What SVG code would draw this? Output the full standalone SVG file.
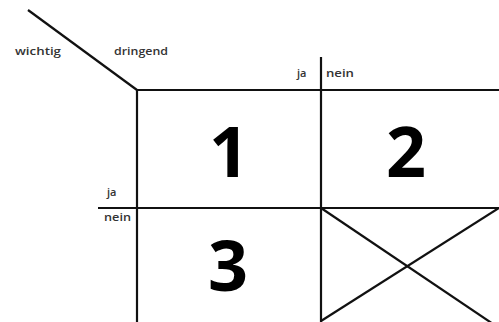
<svg xmlns="http://www.w3.org/2000/svg" width="499" height="322" viewBox="0 0 499 322">
<style>
.ln{stroke:#111;stroke-width:2.2;fill:none}
.lbl{font-family:"Open Sans","Liberation Sans",sans-serif;font-size:11px;font-weight:600;fill:#333}
.num{font-family:"Open Sans","Liberation Sans",sans-serif;font-size:70px;font-weight:700;fill:#000;text-anchor:middle}
</style>
<rect width="499" height="322" fill="#fff"/>
<g id="connectors">
<line class="ln" x1="28" y1="10" x2="137" y2="90"/>
<line class="ln" x1="136" y1="90" x2="499" y2="90"/>
<line class="ln" x1="137" y1="89" x2="137" y2="322"/>
<line class="ln" x1="321" y1="57" x2="321" y2="322"/>
<line class="ln" x1="98" y1="208" x2="499" y2="208"/>
<line class="ln" x1="321" y1="208" x2="499" y2="328"/>
<line class="ln" x1="321" y1="321" x2="499" y2="208"/>
</g>
<g id="labels">
<text class="lbl" x="15" y="55" textLength="46" lengthAdjust="spacingAndGlyphs">wichtig</text>
<text class="lbl" x="114" y="55" textLength="54" lengthAdjust="spacingAndGlyphs">dringend</text>
<text class="lbl" x="297" y="77">ja</text>
<text class="lbl" x="326" y="77" textLength="28" lengthAdjust="spacingAndGlyphs">nein</text>
<text class="lbl" x="107" y="196">ja</text>
<text class="lbl" x="104" y="221" textLength="27" lengthAdjust="spacingAndGlyphs">nein</text>
</g>
<g id="q1"><text class="num" x="229" y="177">1</text></g>
<g id="q2"><text class="num" x="406" y="177">2</text></g>
<g id="q3"><text class="num" x="228" y="291">3</text></g>
</svg>
